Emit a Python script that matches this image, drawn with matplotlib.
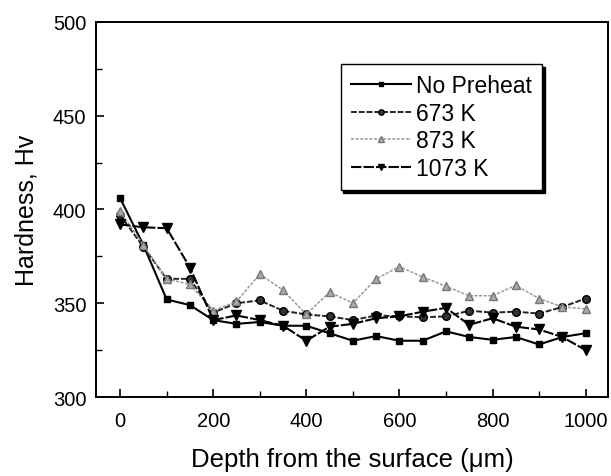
import matplotlib
matplotlib.use("Agg")
import matplotlib.pyplot as plt
from matplotlib.ticker import MultipleLocator

plt.rcParams['font.family'] = ['Liberation Sans', 'DejaVu Sans']

depth = [0, 50, 100, 150, 200, 250, 300, 350, 400, 450, 500,
         550, 600, 650, 700, 750, 800, 850, 900, 950, 1000]
no_preheat = [406, 381, 352, 349, 341, 339, 340, 338, 338, 334, 330,
              332.5, 330, 330, 335, 332, 330.5, 332, 328, 332, 334]
k673 = [397, 380, 363, 363, 345, 350, 351.5, 346, 344, 343, 341,
        343.5, 343, 342.5, 343, 346, 345, 345.5, 344.5, 348, 352.5]
k873 = [399, 381, 363, 360, 346, 351, 365.5, 357, 344, 356, 350,
        363, 369.5, 364, 359, 354, 354, 359.5, 352.5, 348, 347]
k1073 = [392, 390.5, 390, 369, 341, 343.5, 341, 338, 330, 337.5, 339,
         342, 343, 345.5, 347.5, 338.5, 342, 337.5, 336, 332, 325]
labels = ["No Preheat", "673 K", "873 K", "1073 K"]

fig = plt.figure(figsize=(6.11, 4.77), dpi=100)
ax = fig.add_axes([0.157, 0.1656, 0.838, 0.7864])

ax.plot(depth, no_preheat, color='black', lw=1.5, ls='-', marker='s',
        ms=5, mfc='black', mec='black', label=labels[0])
ax.plot(depth, k673, color='#222222', lw=1.4, ls=(0, (3, 1)), marker='o',
        ms=5.5, mfc='#333333', mec='black', label=labels[1])
ax.plot(depth, k873, color='#999999', lw=1.1, ls=(0, (2, 1)), marker='^',
        ms=6, mfc='#aaaaaa', mec='#777777', label=labels[2])
ax.plot(depth, k1073, color='black', lw=1.5, ls=(0, (5, 1)), marker='v',
        ms=7, mfc='black', mec='black', label=labels[3])

ax.set_xlim(-52, 1048)
ax.set_ylim(300, 500)
ax.xaxis.set_major_locator(MultipleLocator(200))
ax.xaxis.set_minor_locator(MultipleLocator(100))
ax.yaxis.set_major_locator(MultipleLocator(50))
ax.yaxis.set_minor_locator(MultipleLocator(25))
ax.tick_params(which='major', direction='in', length=6, width=1.2,
               labelsize=14.5, top=False, right=False)
ax.tick_params(which='minor', direction='in', length=4, width=1,
               top=False, right=False)
ax.tick_params(axis='x', which='major', pad=10)
ax.tick_params(axis='y', which='major', pad=7)
for s in ax.spines.values():
    s.set_linewidth(1.4)

ax.set_xlabel('Depth from the surface (\u03bcm)', fontsize=18.5, labelpad=12)
ax.set_ylabel('Hardness, Hv', fontsize=18, labelpad=10)

leg = ax.legend(loc='upper left', bbox_to_anchor=(0.478, 0.888),
                fontsize=16.5, frameon=True,
                shadow={'color': 'black', 'alpha': 1.0}, fancybox=False,
                handlelength=2.6, handletextpad=0.25, labelspacing=0.2,
                borderpad=0.45, markerscale=0.7, borderaxespad=0)
leg.get_frame().set_edgecolor('black')
leg.get_frame().set_linewidth(1.0)

fig.savefig('out.png', dpi=100)
